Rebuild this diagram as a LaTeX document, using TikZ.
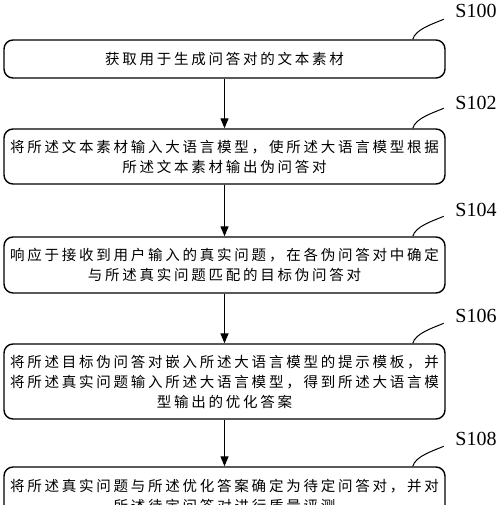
\documentclass[tikz,border=0pt]{standalone}
\usepackage{fontspec}
\setmainfont{Liberation Serif}
\newfontfamily\cjk[LetterSpace=19]{Noto Sans CJK SC}
\usetikzlibrary{arrows.meta}
\begin{document}
\begin{tikzpicture}[x=1pt,y=-1pt,
  stepbox/.style={draw,line width=1.4pt,rounded corners=9pt,minimum width=441pt,
    inner sep=0pt,align=center,font=\cjk\fontsize{14.5}{20}\selectfont},
  arr/.style={line width=1.3pt,-{Triangle[length=10pt,width=8pt]}},
  squig/.style={line width=1pt},
  lab/.style={font=\fontsize{20}{22}\selectfont,inner sep=0pt}]
\useasboundingbox (0,0) rectangle (500,505);
\clip (0,0) rectangle (500,505);
\node[stepbox,minimum height=38pt] (b1) at (224.5,59) {获取用于生成问答对的文本素材};
\node[stepbox,minimum height=55pt] (b2) at (224.5,156.5) {将所述文本素材输入大语言模型，使所述大语言模型根据\\所述文本素材输出伪问答对};
\node[stepbox,minimum height=56pt] (b3) at (224.5,265) {响应于接收到用户输入的真实问题，在各伪问答对中确定\\与所述真实问题匹配的目标伪问答对};
\node[stepbox,minimum height=75pt] (b4) at (224.5,381.5) {将所述目标伪问答对嵌入所述大语言模型的提示模板，并\\将所述真实问题输入所述大语言模型，得到所述大语言模\\型输出的优化答案};
\node[stepbox,minimum height=57pt] (b5) at (224.5,495.5) {将所述真实问题与所述优化答案确定为待定问答对，并对\\所述待定问答对进行质量评测};
\draw[arr] (b1) -- (b2);
\draw[arr] (b2) -- (b3);
\draw[arr] (b3) -- (b4);
\draw[arr] (b4) -- (b5);
\node[lab] (l1) at (476,11) {S100};
\node[lab] (l2) at (476,103) {S102};
\node[lab] (l3) at (476,210) {S104};
\node[lab] (l4) at (476,316) {S106};
\node[lab] (l5) at (476,439) {S108};
\foreach \b in {b1,b2,b3,b4,b5}{
  \draw[squig] ([xshift=-33pt]\b.north east) .. controls +(3,-10) and +(-12,5) .. ++(31,-20);
}
\end{tikzpicture}
\end{document}
